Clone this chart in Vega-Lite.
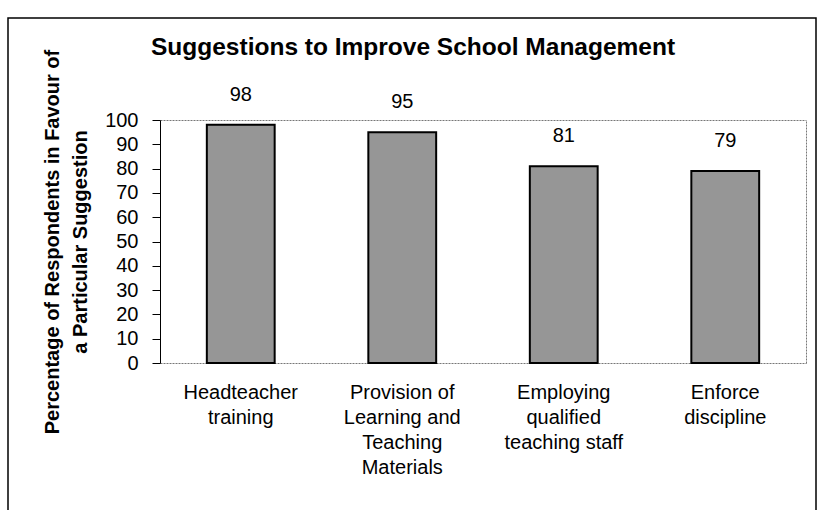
{
  "$schema": "https://vega.github.io/schema/vega-lite/v6.json",
  "width": 808,
  "height": 494,
  "autosize": "none",
  "padding": {"left": 8, "top": 18, "right": 2, "bottom": 2},
  "background": "white",
  "title": {
    "text": "Suggestions to Improve School Management",
    "anchor": "start",
    "frame": "group",
    "dx": 143,
    "offset": 0,
    "dy": 42,
    "font": "Liberation Sans",
    "fontSize": 24.5,
    "fontWeight": "bold",
    "color": "black"
  },
  "data": {
    "values": [
      {"suggestion": "Headteacher\ntraining", "pct": 98},
      {"suggestion": "Provision of\nLearning and\nTeaching\nMaterials", "pct": 95},
      {"suggestion": "Employing\nqualified\nteaching staff", "pct": 81},
      {"suggestion": "Enforce\ndiscipline", "pct": 79}
    ]
  },
  "layer": [
    {
      "mark": {"type": "bar", "fill": "#969696", "stroke": "black", "strokeWidth": 2},
      "encoding": {
        "x": {
          "field": "suggestion",
          "type": "nominal",
          "sort": null,
          "scale": {"range": [152, 798], "paddingInner": 0.58, "paddingOuter": 0.29},
          "axis": {
            "orient": "bottom",
            "offset": -149,
            "title": null,
            "labelAngle": 0,
            "domain": true,
            "domainColor": "#777777",
            "domainDash": [2, 1],
            "domainWidth": 1,
            "ticks": false,
            "labelExpr": "split(datum.label, '\\n')",
            "labelFont": "Liberation Sans",
            "labelFontSize": 20,
            "labelLineHeight": 25,
            "labelPadding": 19,
            "labelColor": "black"
          }
        },
        "y": {
          "field": "pct",
          "type": "quantitative",
          "scale": {"domain": [0, 100], "range": [345, 102]},
          "axis": {
            "orient": "left",
            "offset": -152,
            "title": ["Percentage of Respondents in Favour of", "a Particular Suggestion"],
            "titleFont": "Liberation Sans",
            "titleFontSize": 20,
            "titleFontWeight": "bold",
            "titleLineHeight": 28,
            "titlePadding": 14,
            "titleColor": "black",
            "values": [0, 10, 20, 30, 40, 50, 60, 70, 80, 90, 100],
            "labelFont": "Liberation Sans",
            "labelFontSize": 20,
            "labelColor": "black",
            "labelPadding": 14,
            "tickSize": 8,
            "tickColor": "black",
            "domainColor": "black",
            "grid": false
          }
        }
      }
    },
    {
      "mark": {"type": "text", "baseline": "bottom", "dy": -20, "font": "Liberation Sans", "fontSize": 20, "color": "black"},
      "encoding": {
        "x": {
          "field": "suggestion",
          "type": "nominal",
          "sort": null,
          "axis": {
            "orient": "top",
            "offset": -102,
            "title": null,
            "labels": false,
            "ticks": false,
            "domain": true,
            "domainColor": "#777777",
            "domainDash": [2, 1],
            "domainWidth": 1
          }
        },
        "y": {
          "field": "pct",
          "type": "quantitative",
          "axis": {
            "orient": "right",
            "offset": -10,
            "title": null,
            "labels": false,
            "ticks": false,
            "grid": false,
            "domain": true,
            "domainColor": "#777777",
            "domainDash": [2, 1],
            "domainWidth": 1
          }
        },
        "text": {"field": "pct", "type": "quantitative"}
      }
    }
  ],
  "resolve": {"axis": {"x": "independent", "y": "independent"}},
  "config": {
    "view": {"stroke": "black", "strokeWidth": 1.5}
  }
}
